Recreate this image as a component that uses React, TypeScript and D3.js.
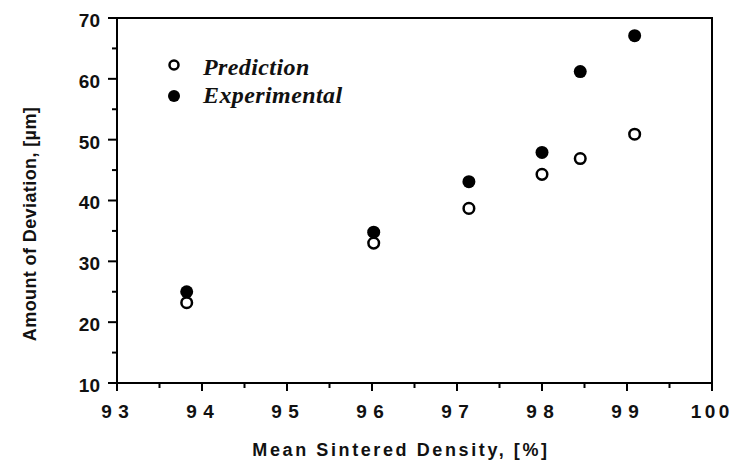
import React from "react";
import * as d3 from "d3";

const densityX = [93.82, 96.02, 97.14, 98.0, 98.45, 99.09];
const predictionY = [23.2, 33.0, 38.7, 44.3, 46.9, 50.9];
const experimentalY = [25.0, 34.8, 43.1, 47.9, 61.2, 67.1];
const xTicks = [93, 94, 95, 96, 97, 98, 99, 100];
const xMinorTicks = [93.5, 94.5, 95.5, 96.5, 97.5, 98.5, 99.5];
const yTicks = [10, 20, 30, 40, 50, 60, 70];
const yMinorTicks = [15, 25, 35, 45, 55, 65];
const legendLabels = ["Prediction", "Experimental"];

const W = 730;
const H = 464;
const M = { left: 117, right: 712, top: 18, bottom: 383 };

export default function App() {
  const x = d3.scaleLinear().domain([93, 100]).range([M.left, M.right]);
  const y = d3.scaleLinear().domain([10, 70]).range([M.bottom, M.top]);
  const sans = "'Liberation Sans', Arial, sans-serif";
  const serif = "'Liberation Serif', 'Times New Roman', serif";
  return (
    <svg width={W} height={H} style={{ position: "absolute", left: 0, top: 0, background: "#fff" }}>
      <rect x={0} y={0} width={W} height={H} fill="#fff" />
      {/* frame */}
      <rect x={M.left} y={M.top} width={M.right - M.left} height={M.bottom - M.top} fill="none" stroke="#000" strokeWidth={2} />
      {/* y ticks */}
      {yTicks.map((t) => (
        <g key={"y" + t}>
          <line x1={M.left - 9} x2={M.left} y1={y(t)} y2={y(t)} stroke="#000" strokeWidth={2} />
          <text x={M.left - 17} y={y(t)} dy="0.47em" textAnchor="end" fontFamily={sans} fontWeight="bold" fontSize={19} fill="#111">
            {t}
          </text>
        </g>
      ))}
      {yMinorTicks.map((t) => (
        <line key={"ym" + t} x1={M.left - 5} x2={M.left} y1={y(t)} y2={y(t)} stroke="#000" strokeWidth={2} />
      ))}
      {/* x ticks */}
      {xTicks.map((t) => {
        const s = String(t);
        const gap = s.length > 2 ? 3.5 : 6.5;
        return (
          <g key={"x" + t}>
            <line x1={x(t)} x2={x(t)} y1={M.bottom} y2={M.bottom + 8} stroke="#000" strokeWidth={2} />
            <text x={x(t) - 2} y={M.bottom + 35} textAnchor="middle" fontFamily={sans} fontWeight="bold" fontSize={19} fill="#111">
              {s.split("").map((c, j) => (
                <tspan key={j} dx={j === 0 ? 0 : gap}>
                  {c}
                </tspan>
              ))}
            </text>
          </g>
        );
      })}
      {xMinorTicks.map((t) => (
        <line key={"xm" + t} x1={x(t)} x2={x(t)} y1={M.bottom} y2={M.bottom + 5} stroke="#000" strokeWidth={2} />
      ))}
      {/* axis titles */}
      <text x={401} y={456} textAnchor="middle" fontFamily={sans} fontWeight="bold" fontSize={18} letterSpacing={2.6} fill="#111">
        Mean Sintered Density, [%]
      </text>
      <text transform={`translate(36,224) rotate(-90)`} textAnchor="middle" fontFamily={sans} fontWeight="bold" fontSize={18} letterSpacing={0.4} fill="#111">
        Amount of Deviation, [µm]
      </text>
      {/* data */}
      {densityX.map((d, i) => (
        <circle key={"e" + i} cx={x(d)} cy={y(experimentalY[i])} r={6.5} fill="#000" />
      ))}
      {densityX.map((d, i) => (
        <circle key={"p" + i} cx={x(d)} cy={y(predictionY[i])} r={5.3} fill="#fff" stroke="#000" strokeWidth={2.5} />
      ))}
      {/* legend */}
      <circle cx={174} cy={65} r={4.5} fill="#fff" stroke="#000" strokeWidth={2.5} />
      <circle cx={174} cy={96} r={6} fill="#000" />
      {legendLabels.map((l, i) => (
        <text key={l} x={203} y={75 + i * 28} fontFamily={serif} fontStyle="italic" fontWeight="bold" fontSize={24} letterSpacing={0.4} fill="#111">
          {l}
        </text>
      ))}
    </svg>
  );
}
